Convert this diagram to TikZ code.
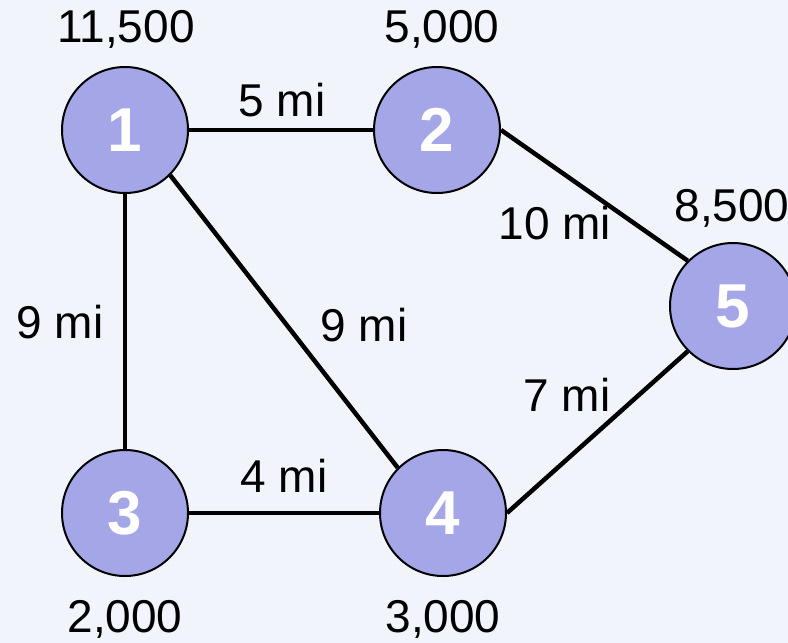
\documentclass[tikz,border=0pt]{standalone}
\usepackage{fontspec}
\setmainfont{Liberation Sans}
\usepackage{tikz}
\definecolor{bgcol}{RGB}{241,244,250}
\definecolor{cityfill}{RGB}{165,166,232}
\tikzset{
    city/.style={circle,draw=black,line width=2pt,fill=cityfill,minimum size=126pt,inner sep=0pt,
        text=white,font=\fontsize{62}{62}\selectfont\bfseries},
    demand/.style={font=\fontsize{46}{46}\selectfont},
    road/.style={line width=4.5pt}
}

\begin{document}
\begin{tikzpicture}[x=1pt,y=-1pt]
\useasboundingbox[fill=bgcol] (0,0) rectangle (788,643);

% towns
\node[city] (c1) at (125,130) {1};
\node[city] (c2) at (437,130) {2};
\node[city] (c3) at (125,513) {3};
\node[city] (c4) at (443,513) {4};
\node[city] (c5) at (733,306) {5};

% populations
\node[demand] (p1) at (126,29) {11,500};
\node[demand] (p2) at (442,29) {5,000};
\node[demand] (p5) at (732,208) {8,500};
\node[demand] (p3) at (125,619) {2,000};
\node[demand] (p4) at (443,619) {3,000};

% roads
\draw[road] (c1) -- (c2);
\draw[road] (c1) -- (c3);
\draw[road] (c1.south east) -- (c4.north west);
\draw[road] (c3) -- (c4);
\draw[road] (c2.east) -- (c5.north west);
\draw[road] (c4.east) -- (c5.south west);

% distances
\node[demand] (d12) at (282,100) {5 mi};
\node[demand] (d25) at (555,223) {10 mi};
\node[demand] (d13) at (60,322) {9 mi};
\node[demand] (d14) at (364,325) {9 mi};
\node[demand] (d45) at (567,395) {7 mi};
\node[demand] (d34) at (284,476) {4 mi};

\end{tikzpicture}
\end{document}
